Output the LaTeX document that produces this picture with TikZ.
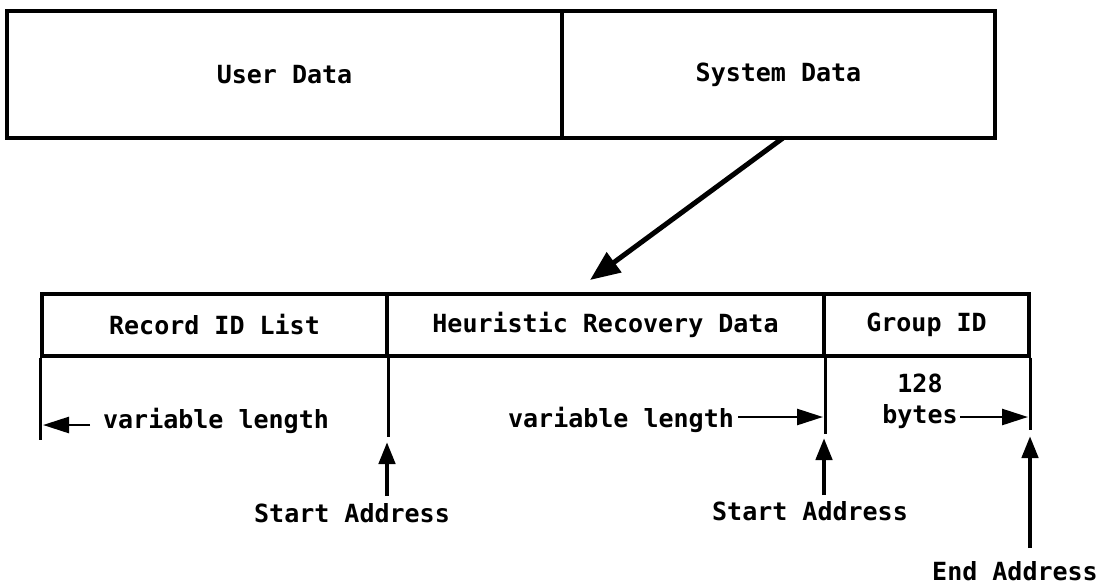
\documentclass[tikz,border=0pt]{standalone}
\usepackage{fontspec}
\setmonofont{DejaVu Sans Mono}
\usetikzlibrary{arrows.meta,calc}
\begin{document}
\begin{tikzpicture}[x=1pt,y=-1pt,
  every node/.style={font=\ttfamily\bfseries\fontsize{25}{30}\selectfont},
  cell/.style={draw,line width=3.4pt,inner sep=0pt,minimum height=#1},
  rule/.style={line width=3.4pt},
  diagarrow/.style={line width=5pt,-{Triangle[length=30pt,width=24pt]}},
  uparrow/.style={line width=4.5pt,-{Triangle[length=22pt,width=16pt]}},
  harrow/.style={line width=2.6pt,-{Triangle[length=26pt,width=16pt]}},
  lbl/.style={anchor=base,inner sep=0pt}]
\useasboundingbox (0,0) rectangle (1107,587);
% top record
\node[cell=127pt,minimum width=555pt] (user) at (284.5,74.5) {User Data};
\node[cell=127pt,minimum width=433pt] (sys) at (778.5,74.5) {System Data};
% system data layout
\node[cell=62pt,minimum width=345pt] (rec) at (214.5,325) {Record ID List};
\node[cell=62pt,minimum width=437pt] (heu) at (605.5,325) {Heuristic Recovery Data};
\node[cell=62pt,minimum width=205pt] (grp) at (926.5,325) {Group ID};
% extensions of the boundaries
\draw[rule] (rec.south west) -- ++(0,82);
\draw[rule] (rec.south east) -- ++(0,79);
\draw[rule] (heu.south east) -- ++(0,76);
\draw[rule] (grp.south east) -- ++(0,72);
% expansion arrow
\coordinate (dstart) at (783,138);
\coordinate (dend) at (590,280);
\draw[diagarrow] (dstart) -- (dend);
% length labels
\node[lbl] (vl1) at (216,428) {variable length};
\node[lbl] (vl2) at (621,427) {variable length};
\node[lbl] (n128) at (920,392) {128};
\node[lbl] (bytes) at (920,423) {bytes};
\coordinate (t1) at (90,425);   \coordinate (h1) at (43,425);
\coordinate (t2) at (738,417);  \coordinate (h2) at (823,417);
\coordinate (t3) at (960,417);  \coordinate (h3) at (1028,417);
\draw[harrow] (t1) -- (h1);
\draw[harrow] (t2) -- (h2);
\draw[harrow] (t3) -- (h3);
% address labels
\node[lbl] (sa1) at (352,522) {Start Address};
\node[lbl] (sa2) at (810,520) {Start Address};
\node[lbl] (ea) at (1015,580) {End Address};
\coordinate (u1t) at (387,496); \coordinate (u1h) at (387,442);
\coordinate (u2t) at (824,495); \coordinate (u2h) at (824,438);
\coordinate (u3t) at (1030,548); \coordinate (u3h) at (1030,436);
\draw[uparrow] (u1t) -- (u1h);
\draw[uparrow] (u2t) -- (u2h);
\draw[uparrow] (u3t) -- (u3h);
\end{tikzpicture}
\end{document}
